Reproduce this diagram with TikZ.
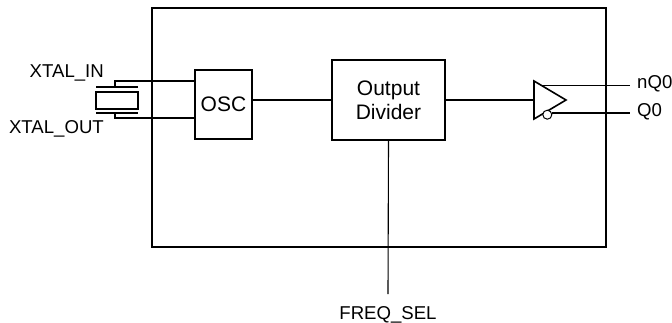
\documentclass[tikz,border=0pt]{standalone}
\usepackage{fontspec}
\setmainfont{Liberation Sans}
\begin{document}
\begin{tikzpicture}[x=1pt,y=-1pt]
	\useasboundingbox (0,0) rectangle (672,322);
	\tikzstyle{block}=[draw=black,line width=1.1pt,inner sep=0pt,align=center,font=\fontsize{21}{24}\selectfont]
	\tikzstyle{pin}=[inner sep=0pt,font=\fontsize{18.6}{22}\selectfont]
	\tikzstyle{wire}=[line width=1.1pt]
	\node[draw=black,line width=2pt,minimum width=454pt,minimum height=239pt] (chip) at (379,127.5) {};
	\node[block,minimum width=57pt,minimum height=69pt] (osc) at (223.5,104.5) {OSC};
	\node[block,minimum width=113pt,minimum height=80pt] (div) at (388.5,100) {Output\\Divider};
	\node[draw=black,line width=2pt,minimum width=42pt,minimum height=17pt,inner sep=0pt] (xtal) at (117,100.5) {};

	% pins
	\node[pin,anchor=base east] (xin) at (104,77.5) {XTAL\_IN};
	\node[pin,anchor=base east] (xout) at (104,133.3) {XTAL\_OUT};
	\node[pin,anchor=base west] (nq) at (637,88.3) {nQ0};
	\node[pin,anchor=base west] (q) at (637,116.7) {Q0};
	\node[pin,anchor=base] (fsel) at (388,319.3) {FREQ\_SEL};

	% crystal plates and leads
	\coordinate (ptop) at (115,87);
	\coordinate (pbot) at (115,113);
	\draw[line width=2pt] (96,87) -- (138,87);
	\draw[line width=2pt] (96,113) -- (138,113);
	\draw[wire] (ptop) -- (115,81) -- (osc.west |- 0,81);
	\draw[wire] (pbot) -- (115,118) -- (osc.west |- 0,118);

	% output buffer
	\coordinate (bufin) at (534,100);
	\draw[line width=1.6pt,line join=miter] (534,81) -- (566,100) -- (534,119) -- cycle;
	\draw[line width=1pt,fill=white] (547.3,114.7) circle (4.5pt);
	\coordinate (nqend) at (630,85.5);
	\coordinate (qend) at (630,113);

	\begin{scope}[wire]
		\draw (osc.east |- div.west) -- (div.west);
		\draw (div.east) -- (bufin);
		\draw (542,85.5) -- (nqend);
		\draw (551.8,113) -- (qend);
		\draw (div.south) -- (388,294);
	\end{scope}
\end{tikzpicture}
\end{document}
